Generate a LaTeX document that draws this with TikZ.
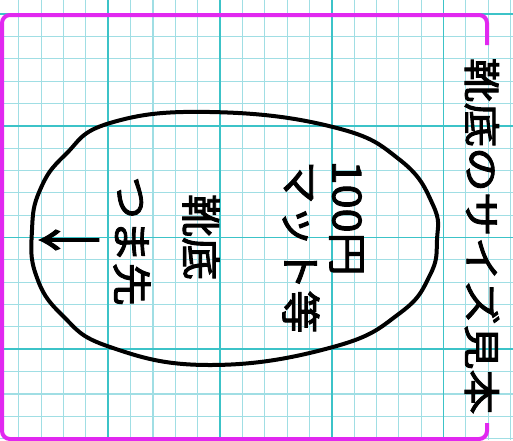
\documentclass[tikz,border=0pt]{standalone}
\usepackage{fontspec}
\newfontfamily\jpfont{Noto Sans CJK JP}[FakeBold=2.2]
\definecolor{gridmajor}{RGB}{60,195,200}
\definecolor{gridminor}{RGB}{160,222,228}
\definecolor{bracketpink}{RGB}{225,40,240}

\begin{document}
\begin{tikzpicture}[x=1pt,y=-1pt,
  minor line/.style={gridminor, line width=1.1pt},
  major line/.style={gridmajor, line width=1.8pt},
  size bracket/.style={bracketpink, line width=4pt, rounded corners=8pt},
  sole outline/.style={black, line width=4pt},
  tate/.style={rotate=-90, xscale=1.08, inner sep=0pt,
    font=\jpfont\fontsize{40}{47}\selectfont},
  ]
  \useasboundingbox (0,0) rectangle (513,440);
  \fill[white] (0,0) rectangle (513,440);
  % grid paper
  \foreach \k in {0,...,23}
    \draw[minor line] ({-3.5+22.35*\k},0) -- ++(0,440);
  \foreach \k in {0,...,19}
    \draw[minor line] (0,{14+22.35*\k}) -- ++(513,0);
  \foreach \k in {0,5,...,20}
    \draw[major line] ({-3.5+22.35*\k},0) -- ++(0,440);
  \foreach \k in {0,5,10,15}
    \draw[major line] (0,{14+22.35*\k}) -- ++(513,0);
  % bracket
  \coordinate (T) at (487,45);
  \coordinate (B) at (487,423);
  \draw[size bracket] (T) |- (2,15) |- (487,439) -- (B);
  \node[tate, xscale=1.12, font=\jpfont\fontsize{37}{44}\selectfont]
    (title) at (482,236) {靴底のサイズ見本};
  % sole
  \draw[sole outline] plot[smooth cycle, tension=0.75] coordinates {
    (210,112) (333,127) (400,160) (433,205) (437,240) (430,275) (400,313)
    (333,347) (210,365) (110,347) (62,315) (36,275) (32,230) (40,190)
    (65,155) (110,123)};
  \node[tate, align=left] (mat) at (323,247) {100円\\マット等};
  \node[tate] (sole) at (201,237) {靴底};
  \node[tate] (toe) at (132,241) {つま先};
  \node[tate] (arrow) at (69,240) {\scalebox{1}[1.6]{↓}};
\end{tikzpicture}
\end{document}
